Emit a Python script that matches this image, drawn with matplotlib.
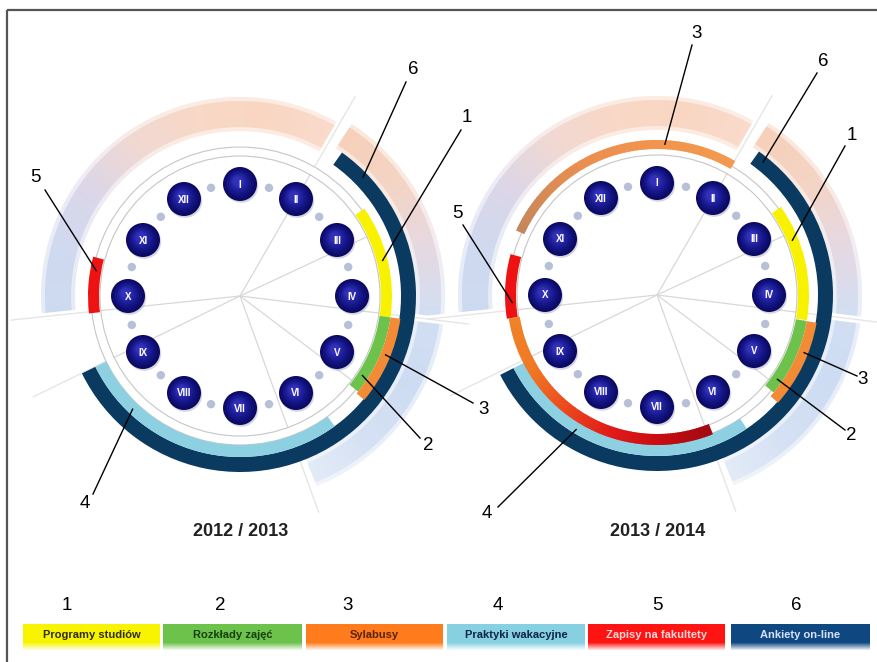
import numpy as np
import matplotlib
matplotlib.use('Agg')
import matplotlib.pyplot as plt
from matplotlib.patches import Wedge, Circle, Rectangle
from matplotlib.colors import to_rgb

# ---------------- data ----------------
months = ['I', 'II', 'III', 'IV', 'V', 'VI', 'VII', 'VIII', 'IX', 'X', 'XI', 'XII']
years = ['2012 / 2013', '2013 / 2014']
legend_numbers = ['1', '2', '3', '4', '5', '6']
legend_labels = ['Programy studiów', 'Rozkłady zajęć', 'Sylabusy',
                 'Praktyki wakacyjne', 'Zapisy na fakultety', 'Ankiety on-line']
legend_colors = ['#f8f400', '#6cc24a', '#ff7b1c', '#86d0e2', '#ff1414', '#0f4880']
legend_text_colors = ['#2e2e00', '#173f10', '#5a2200', '#0f2448', '#ffd8d8', '#d8e2ff']
arc_colors = ['#f8f200', '#6cc24a', '#f28a36', '#8cd0e2', '#ee1212', '#0a3a60']

# arcs: series number, start / end position on the clock (in months, I = 0)
arc_series_2012 = [6, 1, 2, 3, 4, 5]
arc_start_2012 = [1.18, 1.83, 3.27, 3.27, 4.80, 8.78]
arc_end_2012 = [8.13, 3.27, 4.30, 4.33, 8.13, 9.50]

arc_series_2013 = [6, 1, 2, 3, 3, 4, 5, 5]
arc_start_2013 = [1.18, 1.82, 3.33, 3.33, 9.82, 4.87, 8.70, 5.27]
arc_end_2013 = [8.10, 3.32, 4.33, 4.39, 13.01, 8.10, 9.52, 8.70]

# ---------------- layout / style ----------------
W, H = 878, 662
centers = [(240, 296), (657, 295)]
R_MONTH = 112
ring_radii = {1: (141, 152), 2: (141, 152), 3: (152, 162), 4: (149, 161), 5: (141, 152), 6: (161, 176)}
overrides_2013 = {
    4: dict(r=(146, 155), grad=['#c4865c', '#e88e50', '#f2944c', '#f29a50']),
    7: dict(r=(139, 150), grad=['#a10a10', '#c80c12', '#e21c18', '#ec4a1e', '#f07a24', '#f08228']),
}
ringA_stops = ['#ccdaf0', '#cfd9ef', '#dcd6e8', '#f0d8d2', '#f8d8c6', '#f8d6c2', '#f9dacb']
ringB_stops = ['#f6d0ba', '#f4d4c4', '#e6d8e2', '#d2def2', '#cddcf2', '#d4e0f3', '#e2eaf7']

fig = plt.figure(figsize=(W / 100, H / 100), dpi=100)
ax = fig.add_axes([0, 0, 1, 1])
ax.set_xlim(0, W)
ax.set_ylim(H, 0)
ax.axis('off')


def interp_colors(stops, n, fade=0.0):
    stops = [np.array(to_rgb(c)) for c in stops]
    out = []
    for i in range(n):
        t = i / max(n - 1, 1) * (len(stops) - 1)
        k = min(int(t), len(stops) - 2)
        f = t - k
        c = stops[k] * (1 - f) + stops[k + 1] * f
        c = c * (1 - fade) + fade
        out.append(tuple(c))
    return out


def arc(cx, cy, rin, rout, a0, a1, color, z):
    ax.add_patch(Wedge((cx, cy), rout, a0 - 90, a1 - 90, width=rout - rin,
                       facecolor=color, edgecolor='none', zorder=z))


def grad_arc(cx, cy, rin, rout, a0, a1, stops, z, step=1.0, fade=0.0):
    n = max(int(abs(a1 - a0) / step), 2)
    cols = interp_colors(stops, n, fade)
    edges = np.linspace(a0, a1, n + 1)
    for i in range(n):
        e1 = edges[i + 1] + (0.5 if i < n - 1 else 0)
        ax.add_patch(Wedge((cx, cy), rout, edges[i] - 90, e1 - 90,
                           width=rout - rin, facecolor=cols[i], edgecolor='none', zorder=z))


def pol(cx, cy, r, a):
    t = np.deg2rad(a)
    return cx + r * np.sin(t), cy - r * np.cos(t)


ball_cols = interp_colors(['#0a0a62', '#12127e', '#1e1e9c', '#3030b8'], 8)
NARROW = ['Liberation Sans', 'DejaVu Sans']

for ci, (cx, cy) in enumerate(centers):
    # faded outer rings (soft halo + core)
    grad_arc(cx, cy, 165, 199, 263, 389, ringA_stops, 1, fade=0.5)
    grad_arc(cx, cy, 169, 195, 263, 389, ringA_stops, 1.1)
    grad_arc(cx, cy, 176, 205, 33, 158, ringB_stops, 1, fade=0.5)
    grad_arc(cx, cy, 180, 201, 33, 158, ringB_stops, 1.1)
    # radial light streaks
    for a in [30, 65, 97, 127, 160, 244, 264]:
        x0, y0 = pol(cx, cy, 0, a)
        x1, y1 = pol(cx, cy, 140, a)
        ax.plot([x0, x1], [y0, y1], color='#d8d8d8', lw=0.9, zorder=3)
        if a in (30, 97, 160, 244, 264):
            xa, ya = pol(cx, cy, 150, a)
            xb, yb = pol(cx, cy, 230, a)
            ax.plot([xa, xb], [ya, yb], color='white', lw=5, zorder=2, solid_capstyle='butt')
            ax.plot([xa, xb], [ya, yb], color='#e6e6e6', lw=1.0, zorder=2.1)
    # thin circles
    for r in (140, 149):
        ax.add_patch(Circle((cx, cy), r, facecolor='none', edgecolor='#c6c6c6', lw=0.8, zorder=3))

    # coloured arcs
    if ci == 0:
        ser, st, en, ov = arc_series_2012, arc_start_2012, arc_end_2012, {}
    else:
        ser, st, en, ov = arc_series_2013, arc_start_2013, arc_end_2013, overrides_2013
    for i, (s, a, b) in enumerate(zip(ser, st, en)):
        rin, rout = ov.get(i, {}).get('r', ring_radii[s])
        a0, a1 = a * 30, b * 30
        if 'grad' in ov.get(i, {}):
            grad_arc(cx, cy, rin, rout, a0, a1, ov[i]['grad'], 4)
        else:
            arc(cx, cy, rin, rout, a0, a1, arc_colors[s - 1], 4)

    # small dots between months
    for k in range(12):
        x, y = pol(cx, cy, R_MONTH, k * 30 + 15)
        ax.add_patch(Circle((x, y), 4.2, facecolor='#b8c0d8', edgecolor='none', zorder=5))
    # month balls
    for k, m in enumerate(months):
        x, y = pol(cx, cy, R_MONTH, k * 30)
        ax.add_patch(Circle((x + 1.2, y + 1.8), 17, facecolor='#8888a8', alpha=0.35,
                            edgecolor='none', zorder=5))
        for j, c in enumerate(ball_cols):
            f = j / len(ball_cols)
            ax.add_patch(Circle((x - 2.5 * f, y - 3 * f), 17 * (1 - 0.8 * f),
                                facecolor=c, edgecolor='none', zorder=5.1 + j * 0.01))
        ax.text(x, y + 0.5, m, color='white', fontsize=7, fontweight='bold',
                family=NARROW, ha='center', va='center', zorder=6)
    # year title
    ax.text(cx + 1, 531, years[ci], fontsize=13, fontweight='bold', color='#222222',
            family=NARROW, ha='center', va='center', zorder=6)

# callouts: label, target clock angle (deg), target radius, text position, line start
callouts = [
    [('6', 46, 171, (413, 70), (406, 82)),
     ('1', 76, 147, (467, 118), (461, 130)),
     ('3', 112, 157, (484, 410), (473, 403)),
     ('2', 123, 146, (428, 445), (420, 438)),
     ('5', 280, 146, (35, 178), (45, 190)),
     ('4', 223.5, 156, (85, 503), (93, 494))],
    [('3', 3, 151, (697, 33), (692, 45)),
     ('6', 38.6, 170, (823, 62), (817, 73)),
     ('1', 68, 146, (852, 135), (845, 146)),
     ('5', 267, 145, (457, 213), (463, 225)),
     ('3', 111.4, 158, (863, 379), (857, 376)),
     ('2', 125, 147, (851, 435), (845, 430)),
     ('4', 211, 157, (487, 513), (498, 507))],
]
for ci, (cx, cy) in enumerate(centers):
    for lab, a, r, (tx, ty), (sx, sy) in callouts[ci]:
        ex, ey = pol(cx, cy, r, a)
        ax.plot([sx, ex], [sy, ey], color='black', lw=1.0, zorder=7)
        ax.text(tx, ty, lab, fontsize=13.5, family=['Liberation Sans', 'DejaVu Sans'],
                ha='center', va='center', color='black', zorder=7)

# legend
box_x = [23, 163, 306, 447, 588, 731]
box_w = [137, 139, 137, 138, 137, 139]
num_x = [67, 220, 348, 498, 657, 796]
for i in range(6):
    ax.text(num_x[i], 605, legend_numbers[i], fontsize=13.5,
            family=['Liberation Sans', 'DejaVu Sans'], ha='center', va='center', color='black')
    ax.add_patch(Rectangle((box_x[i], 624), box_w[i], 19, facecolor=legend_colors[i],
                           edgecolor='none', zorder=3))
    base = np.array(to_rgb(legend_colors[i]))
    for j in range(7):
        f = (j + 1) / 8
        c = tuple(base * (1 - f) + np.ones(3) * f)
        ax.add_patch(Rectangle((box_x[i], 643 + j), box_w[i], 1.05, facecolor=c,
                               edgecolor='none', zorder=3))
    ax.text(box_x[i] + box_w[i] / 2, 635, legend_labels[i], fontsize=8, fontweight='bold',
            color=legend_text_colors[i], family=NARROW,
            ha='center', va='center', zorder=4)

# frame
ax.plot([7, W], [10, 10], color='#555555', lw=1.6, zorder=8, solid_capstyle='butt')
ax.plot([7, 7], [10, H], color='#555555', lw=1.6, zorder=8, solid_capstyle='butt')

fig.savefig('out.png', dpi=100)
